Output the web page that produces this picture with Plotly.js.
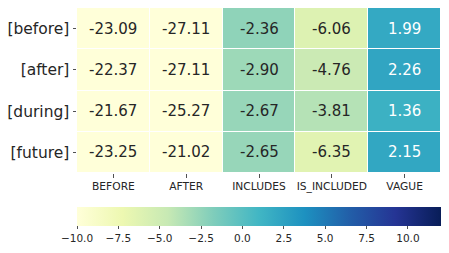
<!DOCTYPE html>
<html><head><meta charset="utf-8">
<script src="https://cdn.plot.ly/plotly-3.0.1.min.js"></script>
<style>html,body{margin:0;padding:0;background:#fff;}</style>
</head><body><div id="chart" style="width:449px;height:253px;"></div>
<script>
const columns = ["BEFORE", "AFTER", "INCLUDES", "IS_INCLUDED", "VAGUE"];
const rows = ["[before]", "[after]", "[during]", "[future]"];
const rowBefore = [-23.09, -27.11, -2.36, -6.06, 1.99];
const rowAfter  = [-22.37, -27.11, -2.90, -4.76, 2.26];
const rowDuring = [-21.67, -25.27, -2.67, -3.81, 1.36];
const rowFuture = [-23.25, -21.02, -2.65, -6.35, 2.15];
const zValues = [rowBefore, rowAfter, rowDuring, rowFuture];
const cbTicks = [-10, -7.5, -5, -2.5, 0, 2.5, 5, 7.5, 10];

const ylgnbu = ["#ffffd9","#edf8b1","#c7e9b4","#7fcdbb","#41b6c4","#1d91c0","#225ea8","#253494","#081d58"];
const colorscale = ylgnbu.map((c,i)=>[i/(ylgnbu.length-1), c]);

const annotations = [];
zValues.forEach((r, ri) => r.forEach((v, ci) => {
  annotations.push({
    x: columns[ci], y: rows[ri], xref: 'x', yref: 'y',
    text: v.toFixed(2), showarrow: false,
    font: {family: 'DejaVu Sans', size: 15, color: v > 0 ? '#ffffff' : '#262626'}
  });
}));

const trace = {
  type: 'heatmap', x: columns, y: rows, z: zValues,
  zmin: -10, zmax: 12, colorscale: colorscale,
  xgap: 1, ygap: 1, hoverinfo: 'skip',
  colorbar: {
    orientation: 'h', x: 0, xanchor: 'left', xref: 'paper',
    y: -0.206, yanchor: 'top', yref: 'paper',
    lenmode: 'fraction', len: 1, thickness: 19,
    xpad: 0, ypad: 0, outlinewidth: 0,
    tickmode: 'array', tickvals: cbTicks, tickformat: '.1f',
    ticks: 'outside', ticklen: 3.5, tickwidth: 0.8, tickcolor: '#262626',
    tickfont: {family: 'DejaVu Sans', size: 10.5, color: '#262626'}
  }
};

const layout = {
  width: 449, height: 253,
  margin: {l: 77, r: 8, t: 8, b: 80},
  paper_bgcolor: '#ffffff', plot_bgcolor: '#ffffff',
  xaxis: {
    type: 'category', showgrid: false, zeroline: false, showline: false,
    ticks: 'outside', ticklen: 3.5, tickwidth: 0.8, tickcolor: '#262626',
    tickfont: {family: 'DejaVu Sans', size: 10.7, color: '#262626'}
  },
  yaxis: {
    type: 'category', autorange: 'reversed', showgrid: false, zeroline: false, showline: false,
    ticks: 'outside', ticklen: 3.5, tickwidth: 0.8, tickcolor: '#262626',
    tickfont: {family: 'DejaVu Sans', size: 15.5, color: '#262626'}
  },
  annotations: annotations,
  showlegend: false
};

Plotly.newPlot('chart', [trace], layout, {displayModeBar: false, staticPlot: true});
</script></body></html>
